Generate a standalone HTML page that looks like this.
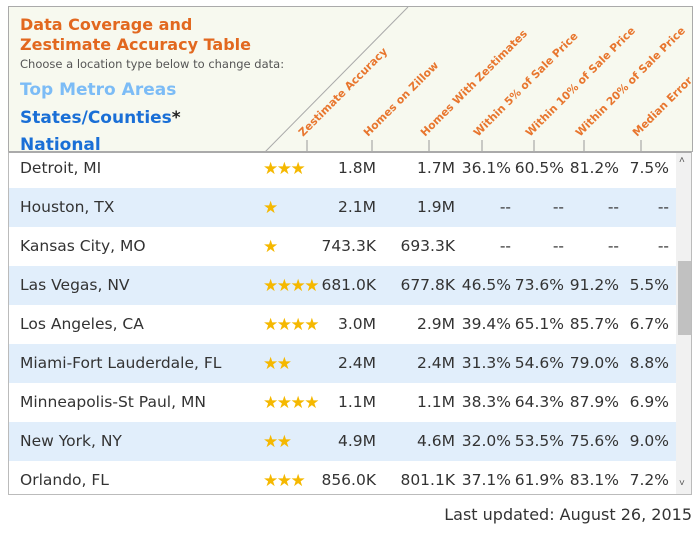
<!DOCTYPE html>
<html><head><meta charset="utf-8"><style>
body{margin:0;width:700px;height:533px;background:#fff;font-family:"Liberation Sans",sans-serif;position:relative;overflow:hidden}
#hdr{position:absolute;left:8px;top:6px;width:683px;height:145px;background:#f7f9ef;border:1px solid #aaa;border-bottom:none}
.t{position:absolute;font-family:"DejaVu Sans",sans-serif;font-weight:bold}
#tbl{position:absolute;left:8px;top:151px;width:684px;height:344px;border:1px solid #bbb;border-top:2px solid #aaa;box-sizing:border-box;overflow:hidden}
.row{position:absolute;left:0;width:667px;height:39px;font-size:15.5px;color:#333;font-family:"DejaVu Sans",sans-serif}
.c{position:absolute;top:0;line-height:39px;white-space:nowrap}
#sb{position:absolute;left:667px;top:0;width:16px;height:342px;background:#f1f1f1}
</style></head><body>
<div id="hdr">
<div class="t" style="left:11px;top:8px;color:#e2681f;font-size:16px;line-height:20px">Data Coverage and<br>Zestimate Accuracy Table</div>
<div style="position:absolute;left:11px;top:50px;font-family:'DejaVu Sans',sans-serif;font-size:11.5px;color:#555">Choose a location type below to change data:</div>
<div class="t" style="left:11px;top:73px;font-size:17px;color:#7cbcf6">Top Metro Areas</div>
<div class="t" style="left:11px;top:101px;font-size:17px;color:#1a6fd6">States/Counties<span style="color:#222">*</span></div>
<div class="t" style="left:11px;top:128px;font-size:17px;color:#1a6fd6">National</div>
<svg id="hs" width="684" height="146" style="position:absolute;left:-1px;top:-1px;overflow:visible"></svg>
</div>
<div id="tbl"><div id="sb">
<div style="position:absolute;left:2px;top:108px;width:14px;height:74px;background:#c1c1c1"></div>
<div style="position:absolute;left:3px;top:2px;font-size:10px;color:#555">˄</div>
<div style="position:absolute;left:3px;top:325px;font-size:10px;color:#555">˅</div></div></div>
<div style="position:absolute;right:8px;top:505px;font-size:16px;color:#333;font-family:'DejaVu Sans',sans-serif">Last updated: August 26, 2015</div>
<script>
const headers=["Zestimate Accuracy","Homes on Zillow","Homes With Zestimates","Within 5% of Sale Price","Within 10% of Sale Price","Within 20% of Sale Price","Median Error"];
const locations=["Detroit, MI","Houston, TX","Kansas City, MO","Las Vegas, NV","Los Angeles, CA","Miami-Fort Lauderdale, FL","Minneapolis-St Paul, MN","New York, NY","Orlando, FL"];
const stars=[3,1,1,4,4,2,4,2,3];
const homes=["1.8M","2.1M","743.3K","681.0K","3.0M","2.4M","1.1M","4.9M","856.0K"];
const withZest=["1.7M","1.9M","693.3K","677.8K","2.9M","2.4M","1.1M","4.6M","801.1K"];
const w5=["36.1%","--","--","46.5%","39.4%","31.3%","38.3%","32.0%","37.1%"];
const w10=["60.5%","--","--","73.6%","65.1%","54.6%","64.3%","53.5%","61.9%"];
const w20=["81.2%","--","--","91.2%","85.7%","79.0%","87.9%","75.6%","83.1%"];
const medErr=["7.5%","--","--","5.5%","6.7%","8.8%","6.9%","9.0%","7.2%"];
const ns="http://www.w3.org/2000/svg";
const hs=document.getElementById('hs');
const tickX=[299,364,421,474,526,576,633];
let ln=document.createElementNS(ns,'line');
ln.setAttribute('x1',257);ln.setAttribute('y1',146);ln.setAttribute('x2',400);ln.setAttribute('y2',1);ln.setAttribute('stroke','#aaa');


hs.appendChild(ln);
headers.forEach((h,i)=>{
 let t=document.createElementNS(ns,'line');
 t.setAttribute('x1',tickX[i]);t.setAttribute('x2',tickX[i]);t.setAttribute('y1',134);t.setAttribute('y2',146);t.setAttribute('stroke','#999');
 
 
 hs.appendChild(t);
 let tx=document.createElementNS(ns,'text');
 tx.setAttribute('transform',`translate(${tickX[i]-4},131) rotate(-45)`);
 tx.setAttribute('font-family','DejaVu Sans, sans-serif');tx.setAttribute('font-size','10.8');tx.setAttribute('font-weight','bold');tx.setAttribute('fill','#e8762e');
 tx.textContent=h;
 
 
 hs.appendChild(tx);
});
const tbl=document.getElementById('tbl');
const rights=[367,446,502,555,610,660];
locations.forEach((loc,i)=>{
 const r=document.createElement('div');r.className='row';
 
 
 r.style.top=(i*39-4)+'px';r.style.background=i%2?'#e1eefb':'#fff';
 let c=document.createElement('div');c.className='c';c.style.left='11px';c.textContent=loc;
 
 
 r.appendChild(c);
 let s=document.createElement('div');s.className='c';s.style.left='254px';s.style.color='#f5b800';s.style.fontSize='17px';s.style.letterSpacing='-1.5px';s.style.fontFamily='Liberation Sans, sans-serif';
 s.textContent='★'.repeat(stars[i]);
 
 
 r.appendChild(s);
 [homes,withZest,w5,w10,w20,medErr].forEach((arr,j)=>{
  let d=document.createElement('div');d.className='c';d.style.right=(667-rights[j])+'px';d.textContent=arr[i];
  
  
  r.appendChild(d);
 });
 tbl.insertBefore(r,tbl.firstChild);
});
</script>
</body></html>
